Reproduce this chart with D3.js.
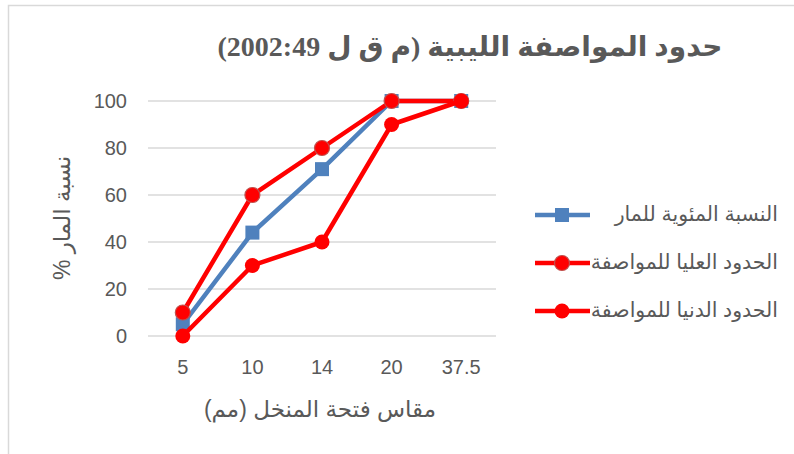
<!DOCTYPE html>
<html>
<head>
<meta charset="utf-8">
<script src="https://cdn.jsdelivr.net/npm/d3@7"></script>
<style>
  body { margin: 0; background: #fff; }
  svg { display: block; }
</style>
</head>
<body>
<div id="chart"></div>
<script>
// chart values
const sieveSizes = ['5', '10', '14', '20', '37.5'];
const passingPct = [5, 44, 71, 100, 100];
const upperLimit = [10, 60, 80, 100, 100];
const lowerLimit = [0, 30, 40, 90, 100];
const yTicks = [0, 20, 40, 60, 80, 100];

const titleText = 'حدود المواصفة الليبية (م ق ل 2002:49)';
const xLabel = 'مقاس فتحة المنخل (مم)';
const yLabel = 'نسبة المار %';

const series = [
    { name: 'النسبة المئوية للمار', values: passingPct, color: '#4f81bd', marker: 'square' },
    { name: 'الحدود العليا للمواصفة', values: upperLimit, color: '#ff0000', marker: 'circle', stroke: '#c0504d' },
    { name: 'الحدود الدنيا للمواصفة', values: lowerLimit, color: '#ff0000', marker: 'circle' }
];

const width = 794, height = 454;
const textColor = '#595959';
const sansFont = '"Liberation Sans", "DejaVu Sans", sans-serif';

const svg = d3.select('#chart').append('svg')
    .attr('width', width)
    .attr('height', height);

// chart area border (only top and left visible)
svg.append('path')
    .attr('d', `M8.5,${height} V5.5 H${width}`)
    .attr('fill', 'none')
    .attr('stroke', '#d9d9d9')
    .attr('stroke-width', 1.5);

const x = d3.scaleBand()
    .domain(sieveSizes)
    .range([148, 496]);
const y = d3.scaleLinear()
    .domain([0, 100])
    .range([336, 101]);
const cx = d => x(d) + x.bandwidth() / 2;

// gridlines
svg.append('g')
    .selectAll('line')
    .data(yTicks)
    .join('line')
    .attr('x1', x.range()[0])
    .attr('x2', x.range()[1])
    .attr('y1', d => y(d))
    .attr('y2', d => y(d))
    .attr('stroke', '#d9d9d9')
    .attr('stroke-width', 1.5);

// Y Axis
const yAxis = svg.append('g')
    .attr('transform', 'translate(137,0)')
    .call(d3.axisLeft(y).tickValues(yTicks).tickSize(0).tickPadding(0));
yAxis.select('.domain').remove();
yAxis.selectAll('text')
    .attr('fill', textColor)
    .style('font-family', sansFont)
    .style('font-size', '20px')
    .attr('dx', -10);

// X Axis
const xAxis = svg.append('g')
    .attr('transform', 'translate(0,355)')
    .call(d3.axisBottom(x).tickSize(0).tickPadding(0));
xAxis.select('.domain').remove();
xAxis.selectAll('text')
    .attr('fill', textColor)
    .style('font-family', sansFont)
    .style('font-size', '20px')
    .attr('dy', '0.95em');

// lines and markers
const line = d3.line()
    .x((d, i) => cx(sieveSizes[i]))
    .y(d => y(d));

function drawMarker(g, s, px, py, size) {
    if (s.marker === 'square') {
        g.append('rect')
            .attr('x', px - size / 2)
            .attr('y', py - size / 2)
            .attr('width', size)
            .attr('height', size)
            .attr('fill', s.color);
    } else {
        g.append('circle')
            .attr('cx', px)
            .attr('cy', py)
            .attr('r', size / 2)
            .attr('fill', s.color)
            .attr('stroke', s.stroke || 'none')
            .attr('stroke-width', s.stroke ? 1.2 : 0);
    }
}

series.forEach(s => {
    const g = svg.append('g');
    g.append('path')
        .datum(s.values)
        .attr('fill', 'none')
        .attr('stroke', s.color)
        .attr('stroke-width', 4.5)
        .attr('stroke-linejoin', 'round')
        .attr('d', line);
    s.values.forEach((v, i) => drawMarker(g, s, cx(sieveSizes[i]), y(v), s.marker === 'square' ? 14 : 15));
});

// Legend
const legendY = [215, 263, 311];
series.forEach((s, i) => {
    const g = svg.append('g').attr('transform', `translate(0,${legendY[i]})`);
    g.append('line')
        .attr('x1', 535).attr('x2', 590)
        .attr('y1', 0).attr('y2', 0)
        .attr('stroke', s.color)
        .attr('stroke-width', 4.5);
    drawMarker(g, s, 562, 0, s.marker === 'square' ? 14 : 15);
    g.append('text')
        .attr('x', 778)
        .attr('y', 0)
        .attr('dy', '0.3em')
        .attr('direction', 'rtl')
        .attr('text-anchor', 'start')
        .attr('fill', textColor)
        .style('font-family', sansFont)
        .style('font-size', '20.5px')
        .text(s.name);
});

// Title
svg.append('text')
    .attr('x', 470)
    .attr('y', 56)
    .attr('text-anchor', 'middle')
    .attr('direction', 'rtl')
    .attr('fill', textColor)
    .style('font-family', '"Liberation Serif", "DejaVu Sans", serif')
    .style('font-weight', 'bold')
    .style('font-size', '28px')
    .text(titleText);

// Axis titles
svg.append('text')
    .attr('x', 320)
    .attr('y', 417)
    .attr('text-anchor', 'middle')
    .attr('direction', 'rtl')
    .attr('fill', textColor)
    .style('font-family', sansFont)
    .style('font-size', '23px')
    .text(xLabel);

svg.append('text')
    .attr('transform', 'translate(70,218) rotate(-90)')
    .attr('text-anchor', 'middle')
    .attr('direction', 'rtl')
    .attr('fill', textColor)
    .style('font-family', sansFont)
    .style('font-size', '23px')
    .text(yLabel);
</script>
</body>
</html>
